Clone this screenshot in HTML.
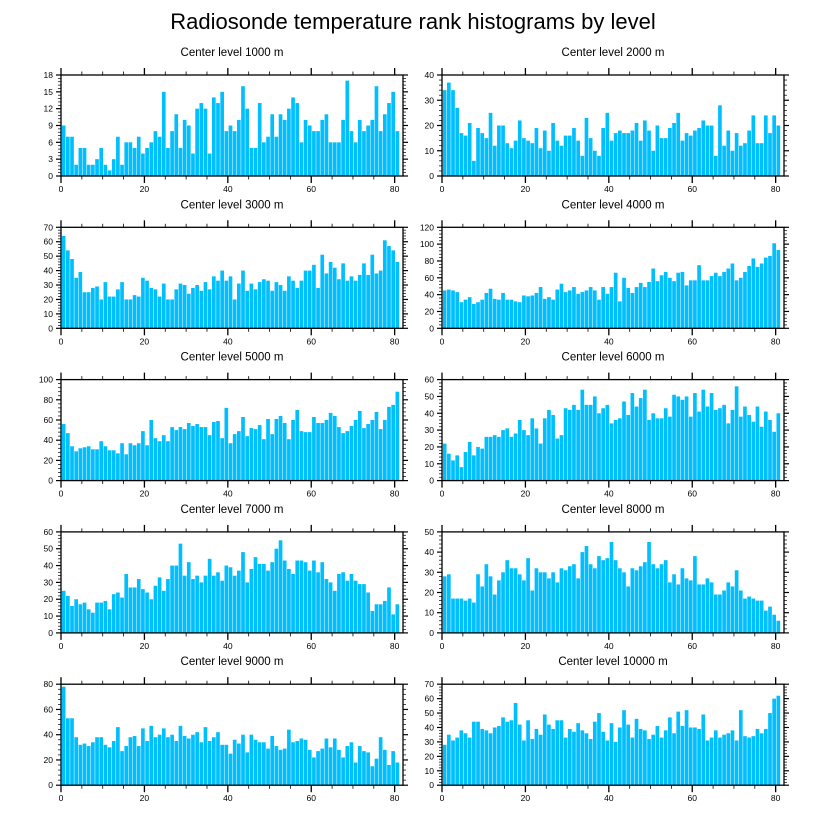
<!DOCTYPE html>
<html><head><meta charset="utf-8">
<style>
html,body{margin:0;padding:0;background:#fff;}
svg{display:block;font-family:"Liberation Sans",Arial,sans-serif;}
</style></head>
<body>
<svg id="chart" width="822" height="824" viewBox="0 0 822 824" xmlns="http://www.w3.org/2000/svg">
<rect width="822" height="824" fill="#fff"/>
<text x="413" y="29" text-anchor="middle" font-size="22" fill="#000">Radiosonde temperature rank histograms by level</text>
</svg>
<script>
const panelTitles = ["Center level 1000 m","Center level 2000 m","Center level 3000 m","Center level 4000 m","Center level 5000 m","Center level 6000 m","Center level 7000 m","Center level 8000 m","Center level 9000 m","Center level 10000 m"];
const yMaxes = [18,40,70,120,100,60,60,50,80,70];
const yTickSteps = [3,10,10,20,20,10,10,10,20,10];
const xTickValues = [0,20,40,60,80];
const v1000 = [9,7,7,2,5,5,2,2,3,5,2,1,3,7,2,6,6,5,7,4,5,6,8,7,15,5,8,11,5,10,9,4,12,13,12,4,14,13,15,8,9,8,10,16,12,5,5,13,6,7,11,7,11,10,12,14,13,6,10,9,8,8,10,11,6,6,6,10,17,8,6,10,8,9,10,16,8,11,13,15,8];
const v2000 = [34,37,34,27,17,16,21,6,19,17,15,25,12,20,20,13,11,14,22,15,14,13,19,11,18,10,21,14,12,16,16,19,14,8,23,15,10,8,19,25,14,17,18,17,17,18,21,14,22,18,10,20,15,15,19,21,25,14,17,16,18,19,22,20,20,8,28,12,18,10,17,12,13,18,24,13,13,24,17,24,20];
const v3000 = [64,54,48,35,39,25,25,28,29,20,32,22,22,27,32,20,20,23,22,35,33,28,27,22,31,20,20,27,31,30,24,28,30,26,32,27,36,33,40,33,36,20,31,40,26,31,27,32,34,33,26,32,30,26,36,33,28,33,40,40,44,28,51,38,46,42,34,45,33,36,33,37,45,37,51,38,40,61,57,54,46];
const v4000 = [45,46,45,43,31,34,37,29,31,34,42,47,35,34,42,34,34,32,31,39,38,39,42,49,35,37,34,46,53,43,45,49,41,43,45,49,45,34,49,41,49,66,32,60,48,42,49,54,49,55,71,56,63,67,60,56,66,67,51,57,57,75,57,57,62,66,62,67,71,77,57,60,67,74,83,73,77,84,86,101,93];
const v5000 = [56,47,34,29,32,33,34,31,31,39,34,30,30,27,37,26,37,35,37,49,35,60,42,39,45,39,53,50,53,51,57,54,56,53,53,45,58,59,42,72,37,46,49,63,44,52,51,55,41,61,46,61,64,57,41,60,70,49,48,48,63,57,57,60,67,64,53,47,49,54,60,69,52,56,60,68,51,60,73,75,88];
const v6000 = [22,16,12,15,8,17,23,15,20,19,26,26,27,26,30,31,26,28,36,30,27,37,31,22,37,42,39,25,27,43,42,45,42,54,45,45,50,40,43,45,34,36,37,47,39,52,44,49,54,36,40,37,37,43,38,51,50,48,50,38,52,41,54,44,52,42,43,45,34,42,56,38,44,39,35,44,32,41,36,29,40];
const v7000 = [25,22,16,20,17,18,14,12,18,18,19,14,23,24,21,35,27,27,32,26,24,20,28,33,25,32,40,40,53,34,42,32,34,30,34,44,34,36,31,40,39,34,37,48,30,38,45,41,41,37,42,50,55,43,38,35,43,43,42,37,43,36,42,32,30,25,35,36,31,35,31,29,29,24,13,17,17,19,27,11,17];
const v8000 = [28,29,17,17,17,16,17,15,29,23,34,28,19,26,30,36,32,32,29,26,37,21,32,30,30,27,30,25,32,31,33,34,27,40,43,34,32,38,36,37,45,36,32,30,23,32,31,33,35,45,34,32,34,36,25,29,24,32,27,26,38,24,24,27,25,19,19,21,25,23,31,21,17,18,17,16,16,11,13,9,6];
const v9000 = [78,53,53,38,32,33,31,34,38,38,32,30,35,46,27,31,38,39,31,45,35,47,38,40,45,38,40,35,47,39,37,40,42,34,46,35,38,42,32,32,25,36,33,40,26,40,36,34,34,29,39,31,28,29,44,34,35,37,36,28,22,27,29,37,30,37,28,22,31,34,18,31,27,26,15,21,38,28,16,27,18];
const v10000 = [28,35,31,33,38,36,33,44,44,39,38,36,40,41,47,44,45,57,42,31,45,32,39,35,49,42,39,45,45,33,39,37,43,38,36,32,44,50,37,31,43,30,40,52,42,33,46,39,38,32,35,41,33,38,47,36,51,41,52,40,40,39,49,31,33,38,33,35,36,38,31,52,34,33,34,39,36,39,50,60,62];
const seriesList = [v1000,v2000,v3000,v4000,v5000,v6000,v7000,v8000,v9000,v10000];

const NS = "http://www.w3.org/2000/svg";
const svg = document.getElementById("chart");
const XMAX = 82;
const colLeft = [61, 442], plotW = 342, plotH = 101, rowTop0 = 75, rowPitch = 152.3;

function mk(tag, attrs, parent){
  const e = document.createElementNS(NS, tag);
  for (const k in attrs) e.setAttribute(k, attrs[k]);
  parent.appendChild(e);
  return e;
}

seriesList.forEach((vals, p) => {
  const col = p % 2, row = Math.floor(p / 2);
  const x0 = colLeft[col], y0 = rowTop0 + row * rowPitch;
  const ymax = yMaxes[p], step = yTickSteps[p];
  const xs = v => x0 + v / XMAX * plotW;
  const ys = v => y0 + plotH - v / ymax * plotH;
  const g = mk("g", {}, svg);
  
  

  const t = mk("text", {x: x0 + plotW / 2, y: y0 - 19, "text-anchor": "middle", "font-size": "11.5", fill: "#000"}, g);
  
  
  t.textContent = panelTitles[p];

  vals.forEach((v, i) => {
    const bx = xs(i + 0.2), bw = xs(i + 1.2) - bx;
    const r = mk("rect", {x: bx, y: ys(v), width: Math.max(bw - 0.5, 0.5), height: ys(0) - ys(v), fill: "#00bfff"}, g);
    
    
  });

  const frame = mk("rect", {x: x0, y: y0, width: plotW, height: plotH, fill: "none", stroke: "#000", "stroke-width": "1.3"}, g);
  
  

  for (let v = 0; v <= 80; v += 5) {
    const major = v % 20 === 0, L = major ? 7 : 3.5, x = xs(v);
    mk("line", {x1: x, x2: x, y1: y0 + plotH, y2: y0 + plotH + L, stroke: "#000", "stroke-width": major ? 1.3 : 0.8}, g);
    mk("line", {x1: x, x2: x, y1: y0, y2: y0 - L, stroke: "#000", "stroke-width": major ? 1.3 : 0.8}, g);
  }
  xTickValues.forEach(v => {
    const lt = mk("text", {x: xs(v), y: y0 + plotH + 16, "text-anchor": "middle", "font-size": "8.5", fill: "#000"}, g);
    
    
    lt.textContent = v;
  });

  const minor = step / 5;
  for (let k = 0; k * minor <= ymax + 1e-9; k++) {
    const v = k * minor, major = k % 5 === 0, L = major ? 5 : 3, y = ys(v);
    mk("line", {x1: x0, x2: x0 - L, y1: y, y2: y, stroke: "#000", "stroke-width": major ? 1.2 : 0.7}, g);
    mk("line", {x1: x0 + plotW, x2: x0 + plotW + L, y1: y, y2: y, stroke: "#000", "stroke-width": major ? 1.2 : 0.7}, g);
  }
  for (let v = 0; v <= ymax + 1e-9; v += step) {
    const lt = mk("text", {x: x0 - 8, y: ys(v) + 3, "text-anchor": "end", "font-size": "8.5", fill: "#000"}, g);
    
    
    lt.textContent = v;
  }
});
</script>
</body></html>
